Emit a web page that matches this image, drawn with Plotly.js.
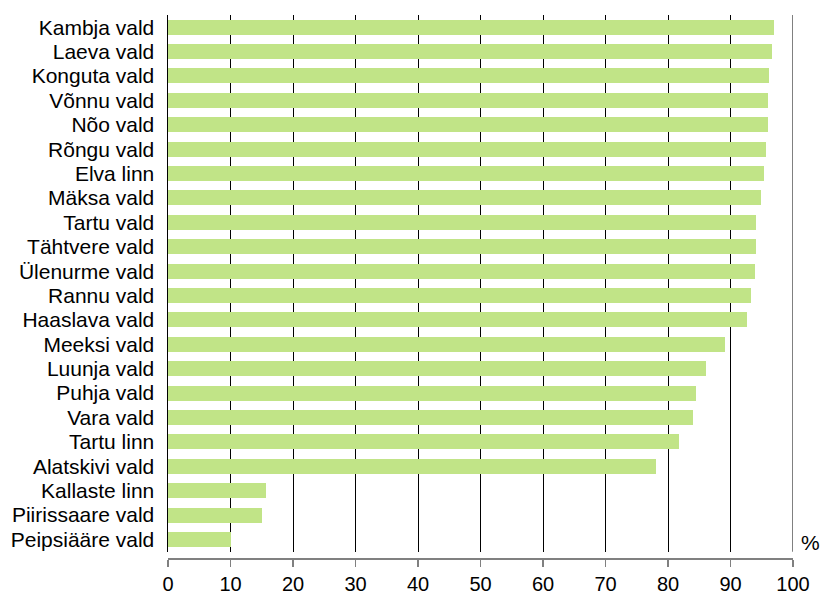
<!DOCTYPE html>
<html><head><meta charset="utf-8">
<script src="https://cdn.plot.ly/plotly-3.0.1.min.js"></script>
<style>html,body{margin:0;padding:0;background:#fff}#c{width:823px;height:594px}</style>
</head><body><div id="c"></div>
<script>
const categories = ["Kambja vald","Laeva vald","Konguta vald","Võnnu vald","Nõo vald","Rõngu vald","Elva linn","Mäksa vald","Tartu vald","Tähtvere vald","Ülenurme vald","Rannu vald","Haaslava vald","Meeksi vald","Luunja vald","Puhja vald","Vara vald","Tartu linn","Alatskivi vald","Kallaste linn","Piirissaare vald","Peipsiääre vald"];
const values = [97.0,96.6,96.2,96.0,96.0,95.7,95.4,94.9,94.1,94.1,93.9,93.3,92.6,89.1,86.1,84.5,84.0,81.8,78.0,15.6,15.1,10.0];
const xTicks = [0,10,20,30,40,50,60,70,80,90,100];
const unitLabel = "%";

const font = {family: "Liberation Sans, Arial, sans-serif", size: 21, color: "#000"};
const tickFont = {family: "Liberation Sans, Arial, sans-serif", size: 20, color: "#000"};
const data = [{
  type: "bar", orientation: "h",
  y: categories, x: values,
  width: 0.615,
  marker: {color: "#c1e487", line: {width: 0}},
  hoverinfo: "none"
}];
const layout = {
  width: 823, height: 594,
  margin: {l: 167.5, r: 30.3, t: 15, b: 35},
  paper_bgcolor: "#fff", plot_bgcolor: "#fff",
  font: font,
  showlegend: false,
  bargap: 0,
  xaxis: {
    range: [0, 100], tickmode: "array", tickvals: xTicks, ticktext: xTicks.map(String),
    anchor: "free", position: 0,
    showgrid: true, gridcolor: "#000", gridwidth: 1,
    showline: true, linecolor: "#808080", linewidth: 2,
    ticks: "outside", ticklen: 7, tickcolor: "#808080", tickwidth: 1.5,
    zeroline: false, tickfont: tickFont, ticklabelstandoff: 0, fixedrange: true
  },
  yaxis: {
    domain: [0.0134, 1],
    type: "category", autorange: "reversed",
    tickmode: "array", tickvals: categories, ticktext: categories,
    showgrid: false, zeroline: false,
    showline: true, linecolor: "#000", linewidth: 1.5,
    ticks: "", tickfont: font, ticklabelstandoff: 8, fixedrange: true
  },
  shapes: [{type: "line", xref: "x", yref: "paper", x0: 100, x1: 100, y0: 0.0134, y1: 1,
            line: {color: "#808080", width: 2}}],
  annotations: [{text: unitLabel, xref: "paper", yref: "paper", x: 1.044, y: 0.031,
                 xanchor: "right", yanchor: "middle", showarrow: false, borderpad: 0, font: font}]
};
Plotly.newPlot("c", data, layout, {displayModeBar: false, staticPlot: true});
</script></body></html>
